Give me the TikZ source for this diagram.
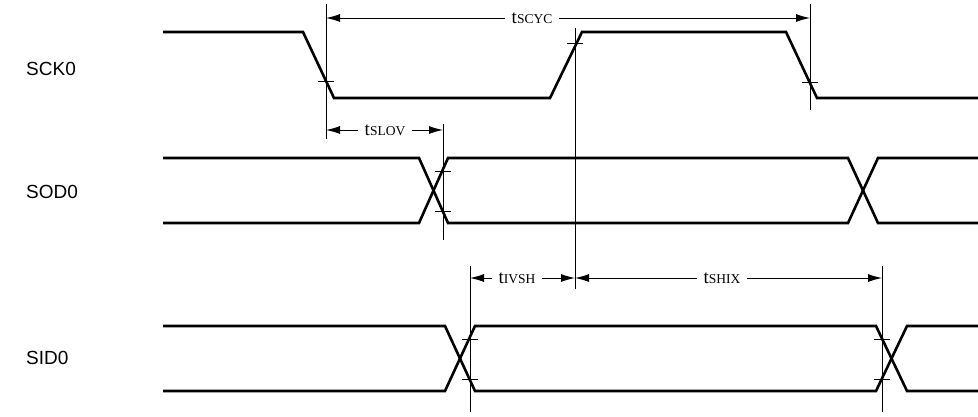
\documentclass[tikz,border=0pt]{standalone}
\usepackage{fontspec}
\setmainfont{Liberation Serif}
\newfontfamily\sigfont{Liberation Sans}
\usetikzlibrary{arrows.meta}
\tikzset{
  wave/.style={line width=2.6pt, line join=miter},
  guide/.style={line width=1pt},
  tickmark/.style={line width=1pt},
  dim/.style={line width=1pt, {Latex[length=14pt,width=8pt]}-{Latex[length=14pt,width=8pt]}},
  dimlabel/.style={fill=white, inner xsep=7pt, inner ysep=3pt, font=\fontsize{19}{22}\selectfont},
  signame/.style={anchor=west, font=\sigfont\fontsize{19}{22}\selectfont, inner sep=0pt},
}
\newcommand{\tlab}[1]{t{\fontsize{13.5}{15}\selectfont #1}}
\begin{document}
\begin{tikzpicture}[x=1pt,y=-1pt]
\useasboundingbox (0,0) rectangle (978,416);
% signal names
\node[signame] (nsck) at (26,69) {SCK0};
\node[signame] (nsod) at (26,192) {SOD0};
\node[signame] (nsid) at (26,358) {SID0};
% SCK0 waveform
\draw[wave] (163,32) -- (303,32) -- (334,98) -- (550,98) -- (582,32) -- (786,32) -- (817,98) -- (978,98);
\draw[tickmark] (318,81) -- (334,81);
\draw[tickmark] (567,43) -- (583,43);
\draw[tickmark] (802,82) -- (818,82);
% SOD0 waveform
\draw[wave] (163,158) -- (419,158) -- (448,223) -- (848,223) -- (878,158) -- (978,158);
\draw[wave] (163,223) -- (419,223) -- (448,158) -- (848,158) -- (878,223) -- (978,223);
\draw[tickmark] (435,171) -- (451,171);
\draw[tickmark] (435,211) -- (451,211);
% SID0 waveform
\draw[wave] (163,326) -- (445,326) -- (475,391) -- (876,391) -- (907,326) -- (978,326);
\draw[wave] (163,391) -- (445,391) -- (475,326) -- (876,326) -- (907,391) -- (978,391);
\draw[tickmark] (462,339) -- (478,339);
\draw[tickmark] (462,379) -- (478,379);
\draw[tickmark] (874,339) -- (890,339);
\draw[tickmark] (874,379) -- (890,379);
% guide lines
\coordinate (g1t) at (326,4);   \coordinate (g1b) at (326,139);
\coordinate (g2t) at (575,28);  \coordinate (g2b) at (575,289);
\coordinate (g3t) at (810,4);   \coordinate (g3b) at (810,110);
\coordinate (g4t) at (443,124); \coordinate (g4b) at (443,240);
\coordinate (g5t) at (470,266); \coordinate (g5b) at (470,412);
\coordinate (g6t) at (882,266); \coordinate (g6b) at (882,412);
\foreach \g in {1,...,6} {\draw[guide] (g\g t) -- (g\g b);}
% dimension arrows
\coordinate (a1l) at (326,18);  \coordinate (a1r) at (810,18);
\coordinate (a2l) at (326,130); \coordinate (a2r) at (443,130);
\coordinate (a3l) at (470,278); \coordinate (a3r) at (575,278);
\coordinate (a4l) at (575,278); \coordinate (a4r) at (882,278);
\draw[dim] (a1l) -- (a1r);
\draw[dim] (a2l) -- (a2r);
\draw[dim] (a3l) -- (a3r);
\draw[dim] (a4l) -- (a4r);
\node[dimlabel] (lscyc) at (532,18) {\tlab{SCYC}};
\node[dimlabel] (lslov) at (385,130) {\tlab{SLOV}};
\node[dimlabel] (livsh) at (517,278) {\tlab{IVSH}};
\node[dimlabel] (lshix) at (722,278) {\tlab{SHIX}};
\end{tikzpicture}
\end{document}
